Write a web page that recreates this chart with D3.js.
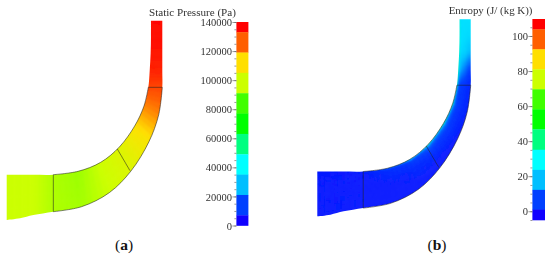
<!DOCTYPE html>
<html><head><meta charset="utf-8">
<script src="https://cdn.jsdelivr.net/npm/d3@7"></script>
<style>html,body{margin:0;background:#fff}svg{display:block}text{font-family:"Liberation Serif",serif;fill:#333}</style>
</head><body><svg id="c" width="550" height="258"></svg>
<script>
// Duct geometry (drawing units of the meridional section)
const innerWall=[[453,62],[453,110],[452,160],[449,215],[445,262],[432,318],[404,378],[358,441],[302,487],[234,514],[160,524],[100,524],[60,524],[20,524]];
const outerWall=[[487,62],[487,110],[487,160],[487,215],[487,262],[476,345],[447,425],[393,513],[328,578],[245,620],[160,635],[100,645],[60,655],[20,660]];
// Static pressure per station (Pa), inner to outer
const pressureAcross=[0,1];
const pressureField=[[139000,139000],[138000,138000],[137000,137000],[135000,135000],[130000,130000],[122000,122000],[112000,110000],[103000,102000],[98500,98000],[93000,94000],[95000,95000],[98000,98000],[98000,98000],[98000,98000]];
// Entropy per station (J/(kg K)), across the duct
const entropyAcross=[0,.04,.1,.2,.35,.6,.8,1];
const entropyField=[
[42,26,24,24,24,24,24,24],[42,26,24,24,24,23,23,23],[48,26,23,23,22,21,19,18],[58,24,20,17,14,11,8,6],
[50,18,10,7,5,4,3,2],[55,20,11,8,5,3,2,1],[50,18,12,8,5,2.5,1,0],[42,16,10,7,4,1.5,0,0],[25,9,6,4,2,1,0,0],[12,5,3,2,1,0,0,0],
[2,1,0,0,0,0,0,0],[0,0,0,0,0,0,0,0],[0,0,0,0,0,0,0,0],[0,0,0,0,0,0,0,0]];
// Legends
const bandColors=["#ff0000","#ff5f00","#ffdf00","#ccff00","#40ff00","#00ff00","#00ff80","#00ffff","#00bfff","#0040ff","#1000ff"];
const pressureBands=[140000,133000,119000,105000,91000,77000,63000,49000,35000,21000,7000,0];
const pressureTicks=[0,20000,40000,60000,80000,100000,120000,140000];
const pressureMinor=d3.range(0,140001,5000);
const entropyBands=[109.7,103.8,92.4,81,69.6,58.2,46.8,35.1,23.6,12.2,.9,-5];
const entropyTicks=[0,20,40,60,80,100];
const entropyMinor=d3.range(-5,110,5);
const dividers=[[[445,262],[487,262]],[[352,447],[390,512]],[[160,524],[160,635]]];

const svg=d3.select("#c");
const defs=svg.append("defs");
const f=defs.append("filter").attr("id","soft").attr("x","-5%").attr("y","-5%").attr("width","110%").attr("height","110%");
f.append("feGaussianBlur").attr("stdDeviation",.9);
const g2=defs.append("filter").attr("id","txt").attr("x","-5%").attr("y","-20%").attr("width","110%").attr("height","140%");
g2.append("feGaussianBlur").attr("stdDeviation",.3);

function panel(o){
  const x=d3.scaleLinear().domain([20,487]).range(o.xr), y=d3.scaleLinear().domain([62,660]).range(o.yr);
  const bandCenters=d3.range(bandColors.length).map(i=>(o.bands[i]+o.bands[i+1])/2);
  bandCenters[0]=o.bands[0]; bandCenters[bandColors.length-1]=o.bands[o.bands.length-1];
  const color=d3.scaleLinear().domain(bandCenters).range(bandColors).interpolate(d3.interpolateRgb).clamp(true);
  const line=d3.line().x(d=>x(d[0])).y(d=>y(d[1]));
  const curved=d3.line().x(d=>x(d[0])).y(d=>y(d[1])).curve(d3.curveCatmullRom);
  const ps=o.id;
  const outerRev=outerWall.slice().reverse();
  const inn=curved(innerWall), outp=curved(outerRev).replace(/^M/,"L");
  defs.append("clipPath").attr("id","clip"+ps).append("path").attr("d",inn+outp+"Z");
  const root=svg.append("g").attr("clip-path",`url(#clip${ps})`).append("g").attr("filter","url(#soft)");
  const lerp=(a,b,t)=>a+(b-a)*t;
  const K=5,M=4,A=o.across;
  const P=(i,t,fr)=>{const a=[lerp(innerWall[i][0],innerWall[i+1][0],t),lerp(innerWall[i][1],innerWall[i+1][1],t)],
    b=[lerp(outerWall[i][0],outerWall[i+1][0],t),lerp(outerWall[i][1],outerWall[i+1][1],t)];
    return [lerp(a[0],b[0],fr),lerp(a[1],b[1],fr)];};
  for(let i=0;i<innerWall.length-1;i++)for(let k=0;k<K;k++)for(let j=0;j<A.length-1;j++)for(let m=0;m<M;m++){
    const t0=k/K,t1=(k+1)/K;
    let f0=lerp(A[j],A[j+1],m/M),f1=lerp(A[j],A[j+1],(m+1)/M);
    const tc=(t0+t1)/2,u=(m+.5)/M;
    const v=lerp(lerp(o.field[i][j],o.field[i][j+1],u),lerp(o.field[i+1][j],o.field[i+1][j+1],u),tc);
    if(j==0&&m==0)f0=-.25; if(j==A.length-2&&m==M-1)f1=1.25;
    const qt0=(i==0&&k==0)?-.3:t0, qt1=(i==innerWall.length-2&&k==K-1)?1.3:t1;
    root.append("path").attr("d",line([P(i,qt0,f0),P(i,qt1,f0),P(i,qt1,f1),P(i,qt0,f1)])+"Z")
      .attr("fill",color(v)).attr("stroke",color(v)).attr("stroke-width",.8);
  }
  // outlines of the bladed section
  const lines=svg.append("g").attr("fill","none").attr("stroke","#222").attr("stroke-opacity",.85).attr("stroke-width",.65).attr("filter","url(#txt)");
  const idxA=4,idxB=10;
  lines.append("path").attr("d",curved(innerWall.slice(idxA,idxB+1)));
  lines.append("path").attr("d",curved(outerWall.slice(idxA,idxB+1)));
  dividers.forEach(d=>lines.append("path").attr("d",line(d)));
  // colour bar
  const s=d3.scaleLinear().domain(o.domain).range(o.range);
  svg.append("g").selectAll("rect").data(bandColors).join("rect")
    .attr("x",o.bar).attr("width",o.barW).attr("y",(d,i)=>s(o.bands[i])).attr("height",(d,i)=>s(o.bands[i+1])-s(o.bands[i])+.3).attr("fill",d=>d);
  const ax=svg.append("g").attr("transform",`translate(${o.bar},0)`).attr("filter","url(#txt)");
  const minor=ax.append("g").call(d3.axisLeft(s).tickValues(o.minor).tickSize(2).tickFormat(""));
  const major=ax.append("g").call(d3.axisLeft(s).tickValues(o.ticks).tickSize(4).tickPadding(.5).tickFormat(d3.format("d")));
  [minor,major].forEach(g=>{g.select(".domain").remove();g.selectAll("line").attr("stroke","#555").attr("stroke-width",.6);});
  major.selectAll("text").attr("font-size",o.tickSize).attr("dy",".34em").style("fill","#333");
  svg.append("text").attr("x",o.tx).attr("y",o.ty).attr("font-size",o.titleSize).attr("filter","url(#txt)").text(o.title);
  const l=svg.append("text").attr("x",o.lx).attr("y",250).attr("text-anchor","middle").attr("font-size",15.5).style("fill","#111");
  l.append("tspan").text("(");
  l.append("tspan").attr("font-weight","bold").text(o.letter);
  l.append("tspan").text(")");
}
panel({id:"a",xr:[6.7,162.3],yr:[20.7,220],field:pressureField,across:pressureAcross,bands:pressureBands,
  domain:[0,140000],range:[225.5,22],bar:236.4,barW:12,ticks:pressureTicks,minor:pressureMinor,tickSize:10.5,
  title:"Static Pressure (Pa)",tx:149,ty:15.5,titleSize:11.1,lx:124,letter:"a"});
panel({id:"b",xr:[317.3,470.7],yr:[19.3,216.3],field:entropyField,across:entropyAcross,bands:entropyBands,
  domain:[-5,109.7],range:[220,19],bar:532.4,barW:12.6,ticks:entropyTicks,minor:entropyMinor,tickSize:10.5,
  title:"Entropy (J/ (kg K))",tx:448.7,ty:13.5,titleSize:10.9,lx:437,letter:"b"});
</script></body></html>
